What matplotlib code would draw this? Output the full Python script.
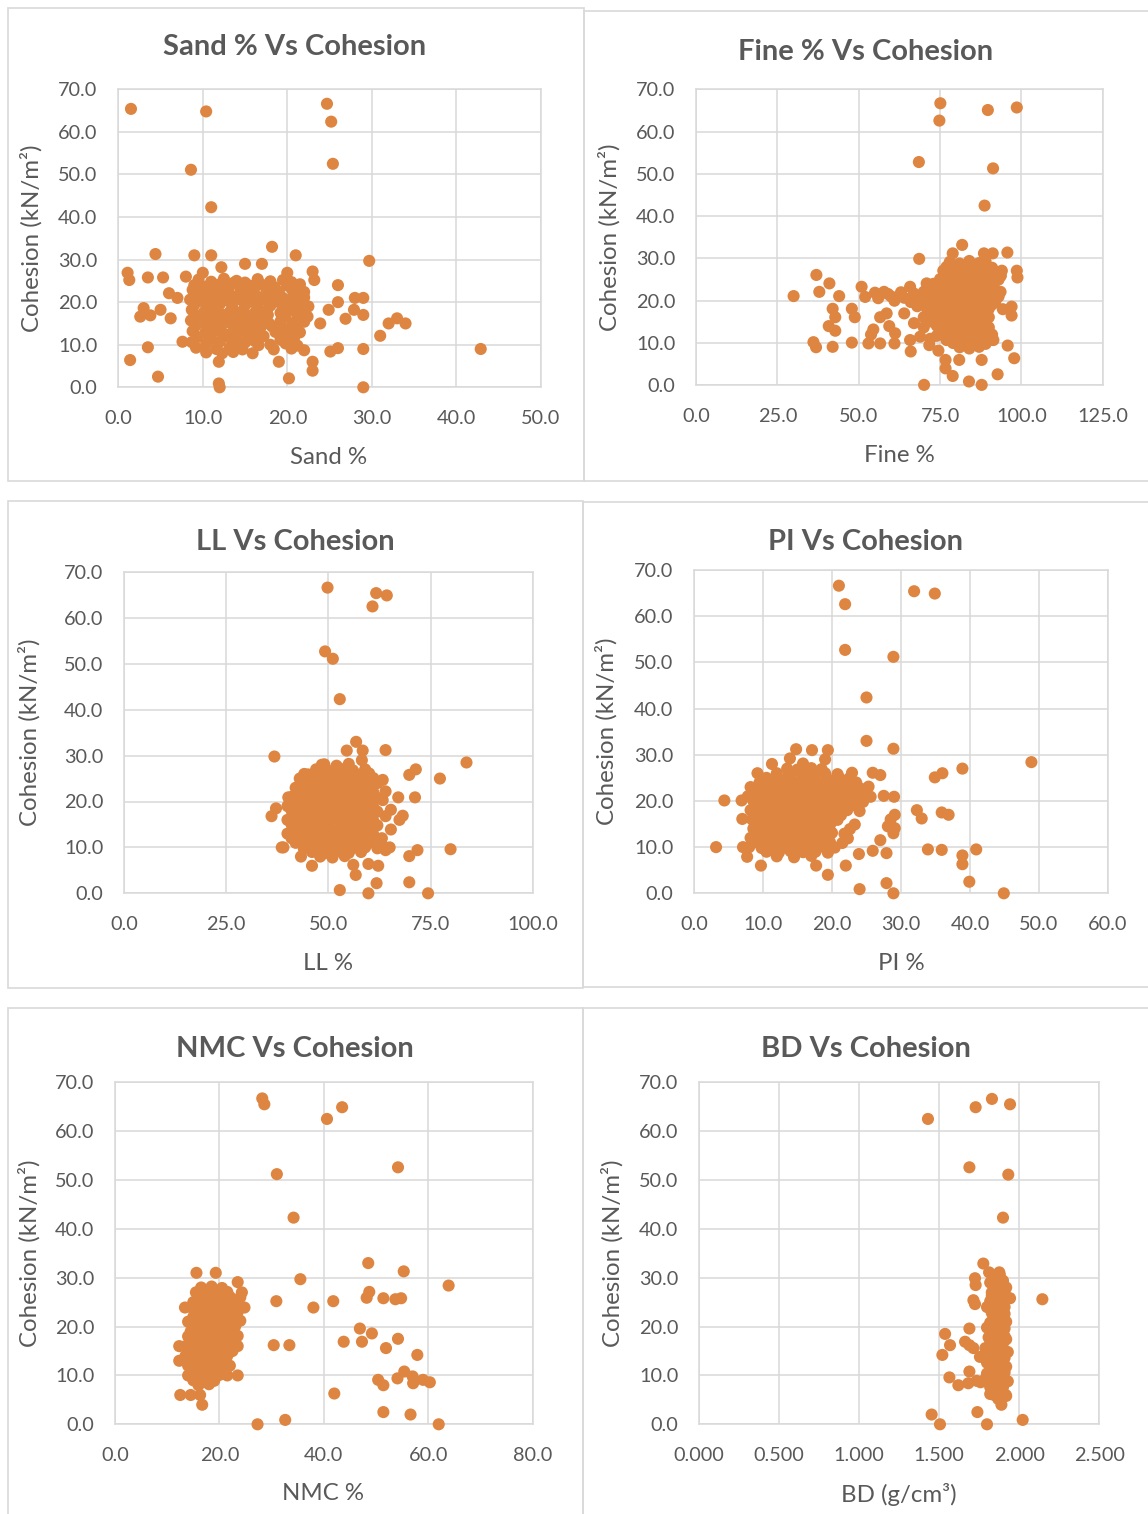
import matplotlib
matplotlib.use("Agg")
import matplotlib.pyplot as plt
from matplotlib.patches import Rectangle
from matplotlib.ticker import FixedLocator, FormatStrFormatter

# ---------------------------------------------------------------- data
# Each entry is (property value, cohesion kN/m2) for one soil sample.
sand_points = [
    (1.5, 65.4), (10.4, 64.8), (24.7, 66.6), (25.2, 62.4), (25.4, 52.5), (8.6, 51.1), (11.0, 42.3),
    (18.2, 33.0), (4.4, 31.3), (9.0, 31.0), (11.0, 31.0), (21.0, 31.0), (29.7, 29.7),
    (1.1, 26.9), (1.3, 25.2), (3.5, 25.8), (5.3, 25.8), (8.0, 26.0), (17.0, 29.0), (15.0, 29.0),
    (12.2, 28.2), (10.0, 26.9), (20.0, 26.9), (23.0, 27.2), (23.2, 25.2), (26.0, 24.0),
    (6.0, 22.1), (7.0, 21.0), (28.0, 21.0), (29.0, 21.0), (26.0, 20.0), (24.9, 18.2), (27.9, 18.2),
    (29.0, 17.0), (26.9, 16.1), (32.0, 15.0), (33.0, 16.2), (34.0, 15.0),
    (3.0, 18.6), (2.6, 16.6), (3.8, 16.9), (5.0, 18.2), (6.2, 16.2), (31.0, 12.1), (3.5, 9.4),
    (1.4, 6.4), (4.7, 2.5), (7.6, 10.7), (11.9, 0.9), (12.0, 0.0), (11.9, 6.0), (15.9, 8.0),
    (19.0, 6.0), (20.2, 2.1), (23.0, 6.0), (23.0, 3.9), (25.1, 8.4), (26.0, 9.2), (29.0, 9.0),
    (29.0, 0.0), (42.9, 9.0), (18.0, 10.0), (18.4, 8.9), (22.0, 21.1), (23.9, 15.0),
    (9.5, 25.3), (11.0, 24.8), (12.5, 25.5), (14.0, 25.0), (15.0, 24.6), (16.5, 25.4), (18.0, 24.9),
    (19.5, 25.2), (20.5, 24.7), (9.0, 24.0), (10.3, 23.6), (12.0, 24.2), (13.2, 23.8), (15.5, 23.9),
    (17.0, 24.1), (18.5, 23.5), (20.0, 23.9), (21.5, 24.2), (8.8, 22.9), (10.0, 22.4), (11.5, 23.1),
    (13.0, 22.6), (14.5, 22.8), (16.0, 22.3), (17.8, 23.0), (19.0, 22.5), (20.6, 22.9), (22.0, 22.4),
    (9.2, 21.8), (10.8, 21.4), (12.3, 21.9), (13.8, 21.3), (15.2, 21.7), (16.6, 21.2), (18.0, 21.6),
    (19.4, 21.1), (21.0, 21.8), (8.5, 20.6), (10.0, 20.2), (11.6, 20.8), (13.0, 20.3), (14.3, 20.7),
    (15.8, 20.1), (17.4, 20.5), (19.0, 20.0), (20.3, 20.6), (21.6, 20.1), (9.0, 19.4), (10.5, 19.0),
    (12.0, 19.5), (13.5, 18.9), (15.0, 19.3), (16.5, 18.8), (18.0, 19.2), (19.6, 18.7), (21.0, 19.4),
    (22.5, 19.0), (8.7, 18.2), (10.2, 17.8), (11.6, 18.3), (13.2, 17.7), (14.8, 18.1), (16.2, 17.6),
    (17.6, 18.0), (19.2, 17.5), (20.6, 18.2), (21.8, 17.7), (9.4, 16.9), (11.0, 16.5), (12.4, 17.0),
    (14.0, 16.4), (15.6, 16.8), (17.0, 16.3), (19.8, 16.7), (21.2, 16.2), (22.4, 16.6), (8.6, 15.7),
    (10.0, 15.3), (11.7, 15.8), (13.2, 15.2), (14.6, 15.6), (16.0, 15.1), (19.2, 15.5), (20.6, 15.0),
    (22.0, 15.4), (9.2, 14.5), (10.8, 14.1), (12.2, 14.6), (13.8, 14.0), (15.2, 14.4), (16.8, 13.9),
    (18.2, 14.3), (19.6, 13.8), (21.0, 14.2), (8.8, 13.2), (10.3, 12.8), (11.8, 13.3), (13.4, 12.7),
    (14.8, 13.1), (16.4, 12.6), (18.6, 13.0), (20.0, 12.5), (21.5, 12.9), (9.4, 11.8), (11.0, 11.4),
    (12.6, 11.9), (14.0, 11.3), (15.6, 11.7), (19.2, 11.2), (20.8, 11.6), (8.7, 10.6), (10.4, 10.2),
    (12.0, 10.7), (13.6, 10.1), (15.0, 10.5), (16.6, 9.9), (19.8, 10.3), (21.2, 9.8), (9.2, 9.3),
    (11.6, 9.0), (13.2, 9.4), (14.7, 8.9), (20.5, 9.1), (22.0, 8.7), (10.4, 8.2), (12.3, 8.0),
    (13.6, 8.3), (17.5, 22.0), (17.9, 14.9), (17.2, 12.0), (16.2, 10.8), (17.7, 17.0),
    (11.0, 18.8), (14.6, 21.5), (16.1, 23.3), (10.7, 12.5), (12.5, 12.6), (15.8, 13.6),
    (12.9, 21.0), (11.2, 22.6), (13.7, 24.6), (9.8, 16.2), (12.8, 15.9), (14.2, 17.3),
]

fine_points = [
    (75.1, 66.7), (74.8, 62.6), (89.7, 65.1), (98.6, 65.7), (68.5, 52.8), (91.3, 51.3), (88.7, 42.5),
    (81.8, 33.2), (78.9, 31.2), (88.5, 31.2), (91.2, 31.2), (95.7, 31.4), (68.6, 29.9), (98.6, 27.1),
    (98.8, 25.5), (93.7, 25.9), (37.0, 26.1), (41.0, 24.1), (37.9, 22.1), (44.0, 21.1), (30.0, 21.1),
    (50.9, 23.3), (42.0, 18.1), (42.8, 16.1), (47.9, 18.1), (48.8, 16.1), (40.8, 14.0), (42.8, 12.9),
    (36.1, 10.2), (36.9, 9.0), (42.0, 9.1), (47.9, 10.1), (53.0, 9.9), (56.6, 9.9), (54.5, 13.2),
    (53.8, 12.0), (61.0, 9.9), (66.0, 8.0), (70.1, 0.1), (76.7, 6.0), (76.7, 4.0), (78.9, 2.2),
    (80.9, 6.0), (83.9, 0.9), (87.8, 0.1), (87.8, 6.0), (92.7, 2.6), (95.8, 9.4), (97.8, 6.4),
    (97.0, 18.6), (97.0, 16.5), (93.6, 22.1), (94.3, 18.0), (91.4, 10.7), (70.9, 24.1), (65.8, 23.3),
    (57.8, 22.1), (56.6, 16.1), (58.6, 17.0), (59.4, 14.0), (61.2, 12.3), (65.8, 10.7), (68.9, 11.5),
    (71.7, 9.5), (74.5, 8.2),
    (78.0, 29.2), (81.0, 28.8), (84.0, 29.4), (87.0, 28.9), (89.0, 29.3), (77.0, 28.0), (80.0, 27.6),
    (83.0, 28.1), (86.0, 27.7), (89.0, 28.2), (91.0, 27.8), (76.0, 27.1), (79.0, 26.7), (82.0, 27.2),
    (85.0, 26.8), (88.0, 27.0), (91.0, 26.6), (94.0, 27.1), (77.0, 25.9), (80.0, 26.2), (83.0, 25.7),
    (86.0, 26.1), (89.0, 25.6), (92.0, 26.0), (75.0, 25.1), (78.0, 24.7), (81.0, 25.2), (84.0, 24.8),
    (87.0, 25.3), (90.0, 24.9), (93.0, 25.0), (73.0, 24.0), (76.0, 23.6), (79.0, 24.1), (82.0, 23.7),
    (85.0, 24.2), (88.0, 23.8), (91.0, 24.0), (71.0, 23.0), (74.0, 22.6), (77.0, 23.1), (80.0, 22.7),
    (83.0, 23.2), (86.0, 22.8), (89.0, 23.0), (92.0, 22.6), (55.0, 21.9), (59.0, 21.6), (63.0, 22.0),
    (67.0, 21.7), (70.0, 22.1), (73.0, 21.8), (76.0, 22.0), (79.0, 21.6), (82.0, 22.0), (85.0, 21.7),
    (88.0, 22.1), (91.0, 21.8), (52.0, 20.9), (56.0, 20.6), (60.0, 21.0), (64.0, 20.7), (68.0, 21.1),
    (72.0, 20.8), (75.0, 21.0), (78.0, 20.6), (81.0, 21.0), (84.0, 20.7), (87.0, 21.1), (90.0, 20.8),
    (93.0, 21.0), (61.0, 20.0), (66.0, 19.7), (70.0, 20.1), (74.0, 19.8), (77.0, 20.0), (80.0, 19.6),
    (83.0, 20.0), (86.0, 19.7), (89.0, 20.1), (92.0, 19.8), (68.0, 18.7), (72.0, 19.1),
    (76.0, 18.8), (79.0, 19.0), (82.0, 18.6), (85.0, 19.0), (88.0, 18.7), (91.0, 19.1),
    (71.0, 18.1), (75.0, 17.8), (78.0, 18.0), (81.0, 17.6), (84.0, 18.0), (87.0, 17.7),
    (90.0, 18.1), (64.0, 17.0), (73.0, 17.1), (77.0, 16.8), (80.0, 17.0), (83.0, 16.6),
    (86.0, 17.0), (89.0, 16.7), (70.0, 16.1), (74.0, 15.8), (78.0, 16.0),
    (81.0, 15.6), (84.0, 16.0), (87.0, 15.7), (90.0, 16.1), (67.0, 14.7), (72.0, 15.1),
    (76.0, 14.8), (79.0, 15.0), (82.0, 14.6), (85.0, 15.0), (88.0, 14.7), (70.0, 13.7),
    (74.0, 14.1), (78.0, 13.8), (81.0, 14.0), (84.0, 13.6), (87.0, 14.0), (90.0, 13.7),
    (76.0, 13.1), (79.0, 12.8), (82.0, 13.0), (86.0, 12.6), (89.0, 13.0),
    (74.0, 11.7), (78.0, 12.1), (81.0, 11.8), (84.0, 12.0), (88.0, 11.6), (91.0, 12.0), (72.0, 11.0),
    (77.0, 10.7), (80.0, 11.1), (83.0, 10.8), (87.0, 11.0), (90.0, 10.6), (79.0, 10.0), (82.0, 9.7),
    (85.0, 10.1), (89.0, 9.8), (81.0, 9.0), (84.0, 8.7), (87.0, 9.1),
]

ll_points = [
    (49.8, 66.6), (61.7, 65.4), (64.3, 64.9), (60.8, 62.5), (49.2, 52.7), (51.1, 51.1), (52.8, 42.3),
    (36.8, 29.8), (56.8, 33.0), (54.5, 31.1), (58.4, 31.1), (64.0, 31.2), (58.2, 29.0), (83.8, 28.5),
    (71.4, 27.0), (69.8, 25.8), (77.3, 25.0), (44.1, 26.0), (48.4, 28.0), (67.1, 20.9), (71.2, 20.9),
    (40.2, 20.9), (37.2, 18.5), (36.1, 16.8), (68.2, 16.9), (67.4, 16.0), (65.3, 18.2), (65.3, 13.9),
    (38.6, 10.0), (43.3, 8.0), (46.0, 6.0), (79.9, 9.6), (71.8, 9.4), (69.8, 8.1), (69.8, 2.4),
    (74.4, 0.0), (59.8, 0.0), (52.8, 0.7), (61.8, 2.2), (56.1, 6.2), (56.7, 4.0), (59.8, 6.4),
    (62.2, 6.0), (64.0, 9.4), (63.1, 12.0), (63.3, 20.3), (63.3, 24.7),
    (49.0, 28.1), (52.0, 27.8), (55.0, 28.2), (47.0, 27.0), (50.0, 26.7), (53.0, 27.1), (56.0, 26.8),
    (59.0, 27.0), (45.0, 25.9), (48.0, 26.1), (51.0, 25.8), (54.0, 26.2), (57.0, 25.9), (60.0, 26.1),
    (43.0, 25.0), (46.0, 24.8), (49.0, 25.2), (52.0, 24.9), (55.0, 25.1), (58.0, 24.8), (61.0, 25.1),
    (44.0, 24.0), (47.0, 23.7), (50.0, 24.1), (53.0, 23.8), (56.0, 24.2), (59.0, 23.9), (62.0, 24.0),
    (42.0, 23.0), (45.0, 22.7), (48.0, 23.1), (51.0, 22.8), (54.0, 23.2), (57.0, 22.9), (60.0, 23.1),
    (43.0, 22.0), (46.0, 21.7), (49.0, 22.1), (52.0, 21.8), (55.0, 22.2), (58.0, 21.9), (61.0, 22.0),
    (64.0, 22.2), (41.0, 21.0), (44.0, 20.7), (47.0, 21.1), (50.0, 20.8), (53.0, 21.2), (56.0, 20.9),
    (59.0, 21.0), (62.0, 20.8), (42.0, 20.0), (45.0, 19.7), (48.0, 20.1), (51.0, 19.8), (54.0, 20.2),
    (57.0, 19.9), (60.0, 20.0), (40.0, 19.0), (43.0, 18.7), (46.0, 19.1), (49.0, 18.8), (52.0, 19.2),
    (55.0, 18.9), (58.0, 19.1), (61.0, 18.8), (41.0, 18.0), (44.0, 17.7), (47.0, 18.1), (50.0, 17.8),
    (53.0, 18.2), (56.0, 17.9), (59.0, 18.0), (62.0, 17.8), (42.0, 17.0), (45.0, 16.7), (48.0, 17.1),
    (51.0, 16.8), (54.0, 17.2), (57.0, 16.9), (60.0, 17.0), (64.0, 16.8), (40.0, 16.0), (43.0, 15.7),
    (46.0, 16.1), (49.0, 15.8), (52.0, 16.2), (55.0, 15.9), (58.0, 16.0), (61.0, 15.8), (41.0, 15.0),
    (44.0, 14.7), (47.0, 15.1), (50.0, 14.8), (53.0, 15.2), (56.0, 14.9), (59.0, 15.0), (62.0, 14.8),
    (42.0, 14.0), (45.0, 13.7), (48.0, 14.1), (51.0, 13.8), (54.0, 14.2), (57.0, 13.9), (60.0, 14.0),
    (40.0, 13.0), (43.0, 12.7), (46.0, 13.1), (49.0, 12.8), (52.0, 13.2), (55.0, 12.9), (58.0, 13.0),
    (61.0, 12.8), (41.0, 12.0), (44.0, 11.7), (47.0, 12.1), (50.0, 11.8), (53.0, 12.2), (56.0, 11.9),
    (59.0, 12.0), (62.0, 11.8), (42.0, 11.0), (45.0, 10.7), (48.0, 11.1), (51.0, 10.8), (54.0, 11.2),
    (57.0, 10.9), (60.0, 11.0), (63.0, 10.8), (39.0, 10.0), (44.0, 9.7), (47.0, 10.1), (50.0, 9.8),
    (53.0, 10.2), (56.0, 9.9), (59.0, 10.0), (62.0, 9.8), (65.0, 10.0), (46.0, 9.0), (49.0, 8.7),
    (52.0, 9.1), (55.0, 8.8), (58.0, 9.0), (48.0, 8.0), (51.0, 7.8), (54.0, 8.1),
]

pi_points = [
    (21.0, 66.6), (21.9, 62.6), (31.9, 65.4), (34.9, 64.9), (21.9, 52.7), (28.9, 51.2), (25.0, 42.4),
    (25.0, 33.0), (28.9, 31.3), (48.9, 28.4), (38.9, 27.0), (36.0, 26.0), (34.9, 25.1), (32.3, 18.0),
    (33.0, 16.2), (35.9, 17.5), (36.9, 17.0), (3.2, 10.0), (4.4, 20.1), (6.9, 20.1), (7.0, 16.1),
    (9.2, 26.0), (11.3, 28.0), (9.7, 6.0), (7.7, 7.9), (7.1, 10.0), (33.9, 9.5), (35.9, 9.4),
    (40.9, 9.5), (38.9, 8.2), (38.9, 6.3), (39.9, 2.5), (44.9, 0.0), (28.9, 0.0), (27.9, 2.2),
    (24.0, 0.9), (22.0, 6.0), (19.4, 4.0), (17.7, 6.0), (23.9, 8.5), (25.9, 9.2), (27.9, 8.7),
    (29.0, 20.9), (27.5, 21.1), (29.1, 17.0), (29.1, 14.1), (25.9, 26.1), (27.0, 25.6), (22.9, 26.1),
    (25.3, 23.1), (25.6, 20.9), (28.5, 16.0), (27.0, 11.5), (14.8, 31.2), (17.1, 31.0), (19.4, 31.0),
    (13.9, 29.2), (19.0, 29.0), (15.8, 28.1), (28.1, 14.5), (28.9, 13.0),
    (13.5, 27.0), (15.0, 26.8), (17.0, 27.1), (18.5, 26.9), (12.0, 26.0), (13.7, 25.8), (15.5, 26.1),
    (17.2, 25.9), (19.0, 26.0), (20.8, 25.8), (10.5, 25.0), (12.2, 24.8), (14.0, 25.1), (15.8, 24.9),
    (17.5, 25.0), (19.3, 24.8), (21.0, 25.1), (22.5, 24.9), (9.5, 24.0), (11.2, 23.8), (13.0, 24.1),
    (14.8, 23.9), (16.5, 24.0), (18.2, 23.8), (20.0, 24.1), (21.8, 23.9), (23.5, 24.0), (8.2, 23.0),
    (10.0, 22.8), (11.8, 23.1), (13.5, 22.9), (15.3, 23.0), (17.0, 22.8), (18.8, 23.1), (20.5, 22.9),
    (22.3, 23.0), (24.0, 22.8), (9.0, 22.0), (10.8, 21.8), (12.6, 22.1), (14.3, 21.9), (16.0, 22.0),
    (17.8, 21.8), (19.5, 22.1), (21.3, 21.9), (23.0, 22.0), (24.8, 21.8), (7.8, 21.0), (9.6, 20.8),
    (11.4, 21.1), (13.2, 20.9), (15.0, 21.0), (16.6, 20.8), (18.4, 21.1), (20.2, 20.9), (22.0, 21.0),
    (23.6, 20.8), (8.6, 20.0), (10.4, 19.8), (12.2, 20.1), (14.0, 19.9), (15.7, 20.0), (17.4, 19.8),
    (19.2, 20.1), (21.0, 19.9), (22.8, 20.0), (24.5, 19.8), (9.4, 19.0), (11.2, 18.8), (13.0, 19.1),
    (14.7, 18.9), (16.4, 19.0), (18.2, 18.8), (20.0, 19.1), (21.7, 18.9), (23.4, 19.0), (8.2, 18.0),
    (10.0, 17.8), (11.8, 18.1), (13.5, 17.9), (15.3, 18.0), (17.0, 17.8), (18.8, 18.1), (20.5, 17.9),
    (22.2, 18.0), (24.0, 17.8), (9.0, 17.0), (10.8, 16.8), (12.5, 17.1), (14.3, 16.9), (16.0, 17.0),
    (17.8, 16.8), (19.6, 17.1), (21.3, 16.9), (8.4, 16.0), (10.2, 15.8), (12.0, 16.1), (13.7, 15.9),
    (15.5, 16.0), (17.2, 15.8), (19.0, 16.1), (20.8, 15.9), (9.3, 15.0), (11.0, 14.8), (12.8, 15.1),
    (14.6, 14.9), (16.3, 15.0), (18.0, 14.8), (19.8, 15.1), (23.3, 14.9), (8.6, 14.0), (10.3, 13.8),
    (12.1, 14.1), (13.9, 13.9), (15.6, 14.0), (17.4, 13.8), (19.1, 14.1), (22.6, 13.9), (9.5, 13.0),
    (11.3, 12.8), (13.0, 13.1), (14.8, 12.9), (16.5, 13.0), (18.3, 12.8), (20.0, 13.1), (21.8, 12.9),
    (8.2, 12.0), (10.0, 11.8), (11.8, 12.1), (13.5, 11.9), (15.3, 12.0), (17.0, 11.8), (18.8, 12.1),
    (22.3, 11.9), (9.2, 11.0), (11.0, 10.8), (12.7, 11.1), (14.4, 10.9), (16.2, 11.0), (18.0, 10.8),
    (19.7, 11.1), (21.5, 10.9), (8.0, 10.0), (9.8, 9.8), (11.6, 10.1), (13.4, 9.9), (15.1, 10.0),
    (16.9, 9.8), (18.7, 10.1), (20.4, 9.9), (10.5, 9.0), (12.3, 8.8), (14.0, 9.1), (15.8, 8.9),
    (17.6, 9.0), (19.4, 8.8), (12.0, 8.0), (14.5, 7.8), (17.0, 8.1),
]

nmc_points = [
    (28.2, 66.7), (28.6, 65.5), (40.6, 62.5), (43.5, 64.9), (54.2, 52.6), (31.0, 51.2), (34.2, 42.3),
    (48.5, 33.0), (55.3, 31.3), (63.9, 28.4), (35.5, 29.7), (48.7, 27.1), (48.2, 25.9), (51.4, 25.8),
    (53.7, 25.6), (54.8, 25.8), (30.9, 25.2), (38.0, 23.9), (41.8, 25.2), (46.9, 19.6), (49.2, 18.6),
    (43.8, 16.9), (47.3, 16.9), (51.9, 15.6), (54.2, 17.5), (30.4, 16.2), (33.4, 16.2), (57.9, 14.2),
    (42.0, 6.3), (50.4, 9.1), (51.4, 8.0), (54.1, 9.4), (55.4, 10.8), (57.0, 9.8), (57.1, 8.4),
    (59.0, 9.1), (60.3, 8.6), (51.4, 2.5), (56.6, 2.0), (62.0, 0.0), (27.3, 0.0), (32.6, 0.9),
    (15.6, 31.0), (19.3, 31.0), (23.5, 29.1), (13.4, 23.9), (12.3, 16.0), (12.3, 13.0), (12.5, 6.0),
    (14.5, 6.0), (16.7, 4.0), (16.3, 6.0), (23.5, 10.0), (23.5, 16.0), (23.5, 18.1), (24.8, 23.9),
    (24.3, 27.0),
    (16.5, 28.0), (18.5, 28.2), (20.5, 27.9), (15.5, 27.0), (17.5, 27.2), (19.5, 26.9), (21.5, 27.1),
    (16.0, 26.0), (18.0, 26.2), (20.0, 25.9), (22.0, 26.1), (24.0, 26.0), (15.0, 25.0), (17.0, 25.2),
    (19.0, 24.9), (21.0, 25.1), (23.0, 25.0), (14.5, 24.0), (16.5, 24.2), (18.5, 23.9), (20.5, 24.1),
    (22.5, 24.0), (15.5, 23.0), (17.5, 23.2), (19.5, 22.9), (21.5, 23.1), (23.5, 23.0), (15.0, 22.0),
    (17.0, 22.2), (19.0, 21.9), (21.0, 22.1), (23.0, 22.0), (14.0, 21.0), (16.0, 21.2), (18.0, 20.9),
    (20.0, 21.1), (22.0, 21.0), (24.0, 21.2), (15.0, 20.0), (17.0, 20.2), (19.0, 19.9), (21.0, 20.1),
    (23.0, 20.0), (14.5, 19.0), (16.5, 19.2), (18.5, 18.9), (20.5, 19.1), (22.5, 19.0), (14.0, 18.0),
    (16.0, 18.2), (18.0, 17.9), (20.0, 18.1), (22.0, 18.0), (15.0, 17.0), (17.0, 17.2), (19.0, 16.9),
    (21.0, 17.1), (23.0, 17.0), (13.5, 16.0), (15.5, 16.2), (17.5, 15.9), (19.5, 16.1), (21.5, 16.0),
    (14.5, 15.0), (16.5, 15.2), (18.5, 14.9), (20.5, 15.1), (22.5, 15.0), (13.5, 14.0), (15.5, 14.2),
    (17.5, 13.9), (19.5, 14.1), (21.5, 14.0), (14.5, 13.0), (16.5, 13.2), (18.5, 12.9), (20.5, 13.1),
    (14.0, 12.0), (16.0, 12.2), (18.0, 11.9), (20.0, 12.1), (22.0, 12.0), (15.0, 11.0), (17.0, 11.2),
    (19.0, 10.9), (21.0, 11.1), (14.0, 10.0), (16.0, 10.2), (18.0, 9.9), (20.0, 10.1), (21.5, 10.0),
    (15.0, 9.0), (17.0, 9.2), (19.0, 8.9), (16.0, 8.0), (18.0, 8.2),
]

bd_points = [
    (1.431, 62.5), (1.729, 64.9), (1.831, 66.6), (1.944, 65.5), (1.690, 52.6), (1.933, 51.1),
    (1.900, 42.3), (1.777, 32.9), (2.146, 25.6), (1.944, 25.8), (1.725, 29.9), (1.729, 28.5),
    (1.715, 25.4), (1.725, 24.6), (1.813, 31.1), (1.877, 31.1), (1.690, 19.6), (1.538, 18.5),
    (1.569, 16.2), (1.521, 14.2), (1.663, 16.9), (1.690, 16.2), (1.715, 15.6), (1.756, 13.8),
    (1.565, 9.6), (1.621, 8.0), (1.690, 10.8), (1.683, 8.4), (1.735, 8.9), (1.454, 2.0),
    (1.506, 0.0), (1.740, 2.5), (1.800, 0.0), (2.023, 0.9), (1.890, 4.0), (1.917, 6.0),
    (1.844, 6.0), (1.890, 8.7), (1.780, 9.0), (1.760, 8.6),
    (1.86, 30.0), (1.90, 29.4), (1.84, 28.8), (1.89, 28.2), (1.86, 27.5), (1.91, 26.9), (1.83, 26.3),
    (1.88, 25.7), (1.85, 25.0), (1.90, 24.4), (1.82, 23.8), (1.87, 23.2), (1.91, 22.6), (1.84, 22.0),
    (1.89, 21.4), (1.82, 20.8), (1.86, 20.2), (1.91, 19.6), (1.84, 19.0), (1.88, 18.4), (1.81, 17.8),
    (1.86, 17.2), (1.90, 16.6), (1.83, 16.0), (1.88, 15.4), (1.81, 14.8), (1.86, 14.2), (1.91, 13.6),
    (1.84, 13.0), (1.89, 12.4), (1.82, 11.8), (1.87, 11.2), (1.91, 10.6), (1.84, 10.0), (1.88, 9.4),
    (1.81, 8.8), (1.86, 8.2), (1.90, 7.6), (1.84, 7.0), (1.88, 6.4), (1.92, 5.8), (1.80, 24.0),
    (1.92, 21.0), (1.80, 19.8), (1.92, 17.4), (1.79, 15.6), (1.93, 14.8), (1.80, 12.6), (1.92, 11.8),
    (1.80, 10.4), (1.93, 8.8), (1.87, 5.2), (1.82, 6.2),
    (1.82, 29.0), (1.88, 30.6), (1.92, 28.0), (1.83, 27.0), (1.87, 26.4), (1.82, 25.2), (1.91, 24.0),
    (1.86, 23.8), (1.83, 22.8), (1.88, 22.2), (1.85, 21.0), (1.90, 20.4), (1.83, 19.6), (1.87, 18.8),
    (1.91, 18.0), (1.84, 17.4), (1.88, 16.8), (1.82, 16.6), (1.86, 15.8), (1.90, 15.2), (1.84, 14.6),
    (1.88, 14.0), (1.82, 13.4), (1.86, 12.8), (1.90, 12.2), (1.84, 11.6), (1.88, 10.8), (1.82, 10.2),
    (1.86, 9.6), (1.90, 9.2), (1.84, 8.6), (1.88, 8.0), (1.82, 7.6), (1.86, 6.8), (1.90, 6.4),
]

cohesion_ticks = [0, 10, 20, 30, 40, 50, 60, 70]
sand_ticks = [0, 10, 20, 30, 40, 50]
fine_ticks = [0, 25, 50, 75, 100, 125]
ll_ticks = [0, 25, 50, 75, 100]
pi_ticks = [0, 10, 20, 30, 40, 50, 60]
nmc_ticks = [0, 20, 40, 60, 80]
bd_ticks = [0.0, 0.5, 1.0, 1.5, 2.0, 2.5]

titles = ["Sand % Vs Cohesion", "Fine % Vs Cohesion", "LL Vs Cohesion",
          "PI Vs Cohesion", "NMC Vs Cohesion", "BD Vs Cohesion"]
x_labels = ["Sand %", "Fine %", "LL %", "PI %", "NMC %", "BD (g/cm³)"]
y_label = "Cohesion (kN/m²)"

# ---------------------------------------------------------------- style
plt.rcParams["font.family"] = ["Lato", "DejaVu Sans"]
TEXT = "#595959"
GRID = "#D9D9D9"
DOT = "#DD8541"

W, H = 1148, 1514
fig = plt.figure(figsize=(W / 100, H / 100), dpi=100)
fig.patch.set_facecolor("white")

# chart frames (left, top, right, bottom in pixels)
frames = [(7.5, 8, 584, 481), (584, 11.5, 1150, 481),
          (7.5, 501.5, 583, 988), (583, 501.5, 1150, 987),
          (7.5, 1008, 583, 1520), (583, 1008, 1150, 1520)]
for l, t, r, b in frames:
    fig.patches.append(Rectangle((l / W, 1 - b / H), (r - l) / W, (b - t) / H,
                                 transform=fig.transFigure, fill=False,
                                 edgecolor=GRID, linewidth=1.2, zorder=0))

# plot areas in pixels, title centres, label centres
layout = [
    dict(pts=sand_points, ticks=sand_ticks, fmt="%.1f", box=(118.3, 89.3, 540.7, 387.3),
         title_xy=(295, 47), xl_xy=(329, 458), yl_x=31),
    dict(pts=fine_points, ticks=fine_ticks, fmt="%.1f", box=(696, 89.3, 1102.7, 385.3),
         title_xy=(866, 52), xl_xy=(899, 456), yl_x=609),
    dict(pts=ll_points, ticks=ll_ticks, fmt="%.1f", box=(124, 572, 532.7, 893.3),
         title_xy=(295, 542), xl_xy=(328, 964), yl_x=29),
    dict(pts=pi_points, ticks=pi_ticks, fmt="%.1f", box=(694, 570, 1108, 893.3),
         title_xy=(866, 542), xl_xy=(901, 964), yl_x=606),
    dict(pts=nmc_points, ticks=nmc_ticks, fmt="%.1f", box=(115, 1082.3, 532.7, 1424.3),
         title_xy=(295, 1049), xl_xy=(323, 1494), yl_x=29),
    dict(pts=bd_points, ticks=bd_ticks, fmt="%.3f", box=(699, 1082.3, 1099, 1424.3),
         title_xy=(866, 1049), xl_xy=(899, 1494), yl_x=612),
]

for i, spec in enumerate(layout):
    l, t, r, b = spec["box"]
    ax = fig.add_axes([l / W, 1 - b / H, (r - l) / W, (b - t) / H])
    xs = [p[0] for p in spec["pts"]]
    ys = [p[1] for p in spec["pts"]]
    ax.scatter(xs, ys, s=76, color=DOT, edgecolors="none", zorder=3, clip_on=False)

    ticks = spec["ticks"]
    ax.set_xlim(ticks[0], ticks[-1])
    ax.set_ylim(cohesion_ticks[0], cohesion_ticks[-1])
    ax.xaxis.set_major_locator(FixedLocator(ticks))
    ax.yaxis.set_major_locator(FixedLocator(cohesion_ticks))
    ax.xaxis.set_major_formatter(FormatStrFormatter(spec["fmt"]))
    ax.yaxis.set_major_formatter(FormatStrFormatter("%.1f"))
    ax.grid(True, color=GRID, linewidth=1.1, zorder=0)
    ax.set_axisbelow(True)
    for sp in ax.spines.values():
        sp.set_color(GRID)
        sp.set_linewidth(1.1)
    ax.tick_params(length=0, labelsize=14.3, labelcolor=TEXT)
    ax.tick_params(axis="y", pad=15)
    ax.tick_params(axis="x", pad=16)

    ax.set_xlabel(x_labels[i], fontsize=17.3, color=TEXT)
    ax.set_ylabel(y_label, fontsize=17.3, color=TEXT)
    xl_x, xl_y = spec["xl_xy"]
    ax.xaxis.set_label_coords((xl_x - l) / (r - l), (b - xl_y) / (b - t))
    ax.xaxis.label.set_va("center")
    ax.yaxis.set_label_coords((spec["yl_x"] - l) / (r - l), 0.5)
    ax.yaxis.label.set_va("center")

    tx, ty = spec["title_xy"]
    fig.text(tx / W, 1 - ty / H, titles[i], ha="center", va="center",
             fontsize=21, fontweight="bold", color=TEXT)

fig.savefig("out.png", dpi=100, facecolor="white")
